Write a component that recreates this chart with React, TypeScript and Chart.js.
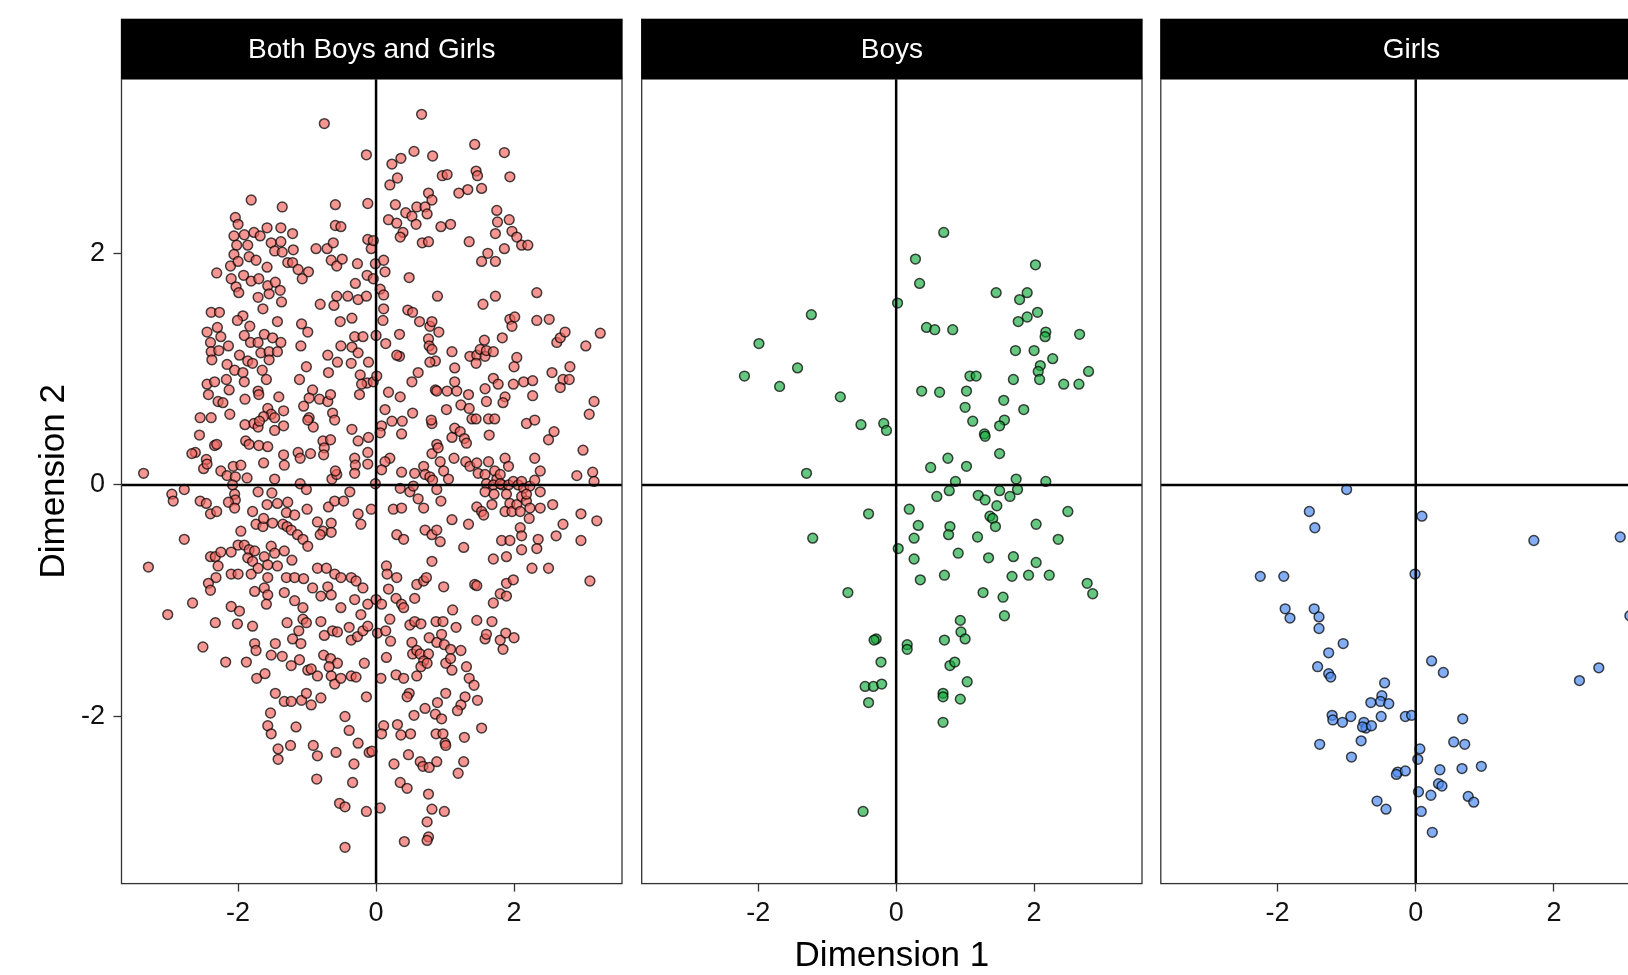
import React, { useEffect, useRef } from "react";
import { Chart, registerables } from "chart.js";

Chart.register(...registerables);

// ---------- data ----------
const panelTitles = ["Both Boys and Girls", "Boys", "Girls"];
const xAxisTitle = "Dimension 1";
const yAxisTitle = "Dimension 2";
const xTickValues = [-2, 0, 2];
const yTickValues = [-2, 0, 2];
const xLimits = [-3.69, 3.565];
const yLimits = [-3.443, 3.505];

const bothPoints: [number, number][] = [
  [-0.75,3.12],[-0.14,2.85],[-1.81,2.46],[-1.36,2.40],[-0.59,2.42],[-0.12,2.43],[-2.04,2.31],[-2.00,2.25],[-1.58,2.22],[-1.38,2.22],
  [-0.59,2.24],[-0.51,2.23],[-1.21,2.17],[-2.06,2.15],[-1.91,2.16],[-1.77,2.18],[-1.68,2.15],[-0.12,2.12],[-2.02,2.07],[-1.52,2.09],
  [-1.38,2.10],[-0.87,2.04],[-0.71,2.04],[-0.62,2.09],[-1.20,2.03],[-1.47,2.02],[-1.36,2.01],[-1.86,2.07],[-0.07,2.04],[-2.06,1.99],
  [-1.84,1.97],[-1.74,1.94],[-2.11,1.89],[-2.00,1.93],[-1.58,1.88],[-1.28,1.92],[-1.21,1.92],[-1.13,1.86],[-0.98,1.84],[-1.07,1.78],
  [-0.65,1.94],[-0.57,1.89],[-0.49,1.95],[-0.27,1.91],[-2.31,1.83],[-2.10,1.78],[-1.92,1.81],[-1.81,1.76],[-1.70,1.78],[-1.57,1.72],
  [-1.46,1.75],[-1.39,1.68],[-2.03,1.71],[-1.99,1.66],[-1.71,1.62],[-1.55,1.65],[-1.37,1.58],[-1.64,1.52],[-0.30,1.74],[-0.13,1.81],
  [-0.81,1.56],[-0.61,1.55],[-0.57,1.63],[-0.41,1.63],[-0.26,1.60],[-0.14,1.63],[-2.39,1.49],[-2.27,1.49],[-1.93,1.46],[-2.01,1.42],
  [-1.83,1.37],[-1.43,1.41],[-1.08,1.39],[-0.99,1.32],[-0.52,1.41],[-0.35,1.44],[-2.45,1.32],[-2.30,1.36],[-2.25,1.28],[-1.91,1.29],
  [-1.82,1.23],[-1.62,1.30],[-1.50,1.27],[-1.38,1.23],[-1.71,1.23],[-1.09,1.20],[-0.31,1.28],[-0.19,1.28],[-2.40,1.23],[-2.14,1.20],
  [-0.51,1.20],[-0.35,1.19],
  [0.66,3.20],[1.43,2.94],[1.86,2.87],[0.23,2.77],[0.36,2.82],[0.55,2.88],[0.82,2.84],[0.96,2.67],[1.03,2.68],[1.45,2.71],
  [1.47,2.67],[1.94,2.66],[0.20,2.59],[0.31,2.65],[0.76,2.52],[0.81,2.46],[1.20,2.52],[1.33,2.55],[1.53,2.56],[0.28,2.42],
  [0.43,2.35],[0.59,2.40],[0.71,2.40],[0.74,2.34],[0.18,2.29],[0.30,2.26],[0.52,2.32],[0.58,2.25],[0.39,2.18],[0.35,2.14],
  [0.94,2.23],[1.08,2.25],[0.67,2.09],[0.76,2.10],[1.35,2.10],[1.75,2.37],[1.76,2.27],[1.73,2.17],[1.93,2.29],[1.97,2.19],
  [2.04,2.14],[2.11,2.07],[2.20,2.07],[1.86,2.04],[1.62,2.00],[1.53,1.93],[1.73,1.93],[-0.04,2.11],[-0.01,1.91],[0.11,1.94],
  [0.13,1.84],[-0.04,1.78],[0.06,1.69],[0.11,1.64],[0.11,1.52],[0.10,1.42],[0.00,1.29],[0.14,1.22],[0.48,1.79],[0.89,1.63],
  [1.55,1.56],[1.73,1.63],[2.33,1.66],[0.46,1.51],[0.53,1.49],[0.63,1.41],[0.78,1.37],[0.81,1.41],[0.91,1.32],[0.34,1.30],
  [0.76,1.26],[0.77,1.20],[1.57,1.25],[1.83,1.27],[1.94,1.43],[1.97,1.37],[2.01,1.45],[2.33,1.42],[2.51,1.43],[2.62,1.23],
  [2.67,1.27],[2.74,1.32],[3.04,1.20],[3.25,1.31],
  [-2.39,1.15],[-2.28,1.16],[-2.38,1.08],[-2.16,1.04],[-2.05,0.99],[-1.98,1.12],[-1.93,0.97],[-1.86,1.07],[-1.79,1.05],[-1.67,1.14],
  [-1.55,1.15],[-1.55,1.08],[-1.65,0.99],[-1.43,1.15],[-1.59,0.91],[-1.71,0.81],[-1.70,0.78],[-2.45,0.87],[-2.43,0.78],[-2.34,0.89],
  [-2.29,0.72],[-2.22,0.71],[-2.17,0.91],[-2.13,0.82],[-1.91,0.89],[-1.90,0.74],[-1.41,0.76],[-1.34,0.64],[-1.57,0.66],[-1.52,0.61],
  [-1.63,0.59],[-1.47,0.58],[-1.01,1.02],[-1.11,0.91],[-0.92,0.82],[-0.97,0.75],[-1.05,0.68],[-0.82,0.74],[-0.70,0.72],[-0.66,0.78],
  [-0.63,0.62],[-0.60,0.56],[-0.97,0.58],[-0.91,0.50],[-0.99,0.56],[-0.70,1.12],[-0.69,0.97],[-0.56,1.06],[-0.36,1.05],[-0.26,1.14],
  [-0.23,0.95],[-0.13,0.88],[-0.21,0.87],[-0.11,1.06],[-0.24,0.78],[-2.55,0.58],[-2.39,0.58],[-2.12,0.61],[-1.90,0.52],[-1.77,0.53],
  [-1.71,0.50],[-1.69,0.55],[-1.34,0.51],[-1.47,0.47],[-2.56,0.43],[-2.34,0.34],[-2.31,0.35],[-2.62,0.28],[-2.67,0.27],[-2.46,0.22],
  [-2.50,0.14],[-2.45,0.18],[-1.89,0.38],[-1.84,0.35],[-1.70,0.34],[-1.57,0.33],[-1.63,0.19],[-1.34,0.26],[-1.33,0.17],[-1.13,0.28],
  [-1.10,0.23],[-0.95,0.27],[-0.77,0.38],[-0.75,0.32],[-0.66,0.39],[-0.76,0.26],[-0.35,0.48],[-0.26,0.38],[-0.11,0.41],[-0.12,0.28],
  [-0.31,0.23],[-0.30,0.17],[-0.31,0.10],[-0.12,0.18],[-3.37,0.10],[-2.25,0.12],[-2.16,0.08],[-2.07,0.16],[-1.96,0.17],[-2.04,0.07],
  [-1.87,0.06],[-1.47,0.05],[-2.08,0.00],[-2.05,-0.08],[-2.04,-0.13],[-1.71,-0.06],[-1.51,-0.07],[-1.10,0.01],[-1.01,-0.04],[-0.64,0.05],
  [-0.57,0.09],[-0.59,0.12],[-2.96,-0.08],[-2.94,-0.14],[-2.78,-0.04],[-2.55,-0.14],[-2.46,-0.16],[-2.40,-0.25],[-2.31,-0.23],[-2.14,-0.15],
  [-2.05,-0.20],[-1.79,-0.23],[-1.58,-0.17],[-1.43,-0.16],[-1.28,-0.15],[-1.30,-0.24],[-1.18,-0.26],[-1.00,-0.21],[-0.69,-0.19],[-0.60,-0.14],
  [-0.47,-0.14],[-0.38,-0.06],[-0.26,-0.25],[-0.22,-0.34],[-0.07,-0.21],[-2.78,-0.47],[-3.30,-0.71],[-1.96,-0.40],[-1.74,-0.34],[-1.64,-0.36],
  [-1.63,-0.29],[-1.50,-0.33],[-1.35,-0.34],[-1.29,-0.36],[-1.23,-0.39],[-1.14,-0.43],[-1.06,-0.47],[-0.99,-0.53],[-0.85,-0.32],[-0.77,-0.40],
  [-0.65,-0.33],[-0.65,-0.41],[-0.81,-0.43],[-2.40,-0.62],[-2.33,-0.62],[-2.25,-0.58],[-2.10,-0.58],[-2.00,-0.52],[-1.91,-0.52],[-1.84,-0.56],
  [-1.76,-0.57],[-1.86,-0.63],[-1.79,-0.66],[-1.62,-0.62],[-1.52,-0.53],[-1.47,-0.59],[-1.33,-0.57],[-1.22,-0.65],[-2.29,-0.70],[-2.32,-0.80],
  [-2.43,-0.85],[-2.40,-0.91],[-2.10,-0.77],[-2.00,-0.77],[-1.81,-0.77],[-1.71,-0.72],[-1.57,-0.69],[-1.43,-0.70],[-1.57,-0.80],[-1.62,-0.89],
  [-1.57,-0.95],[-1.76,-0.92],[-1.59,-1.03],[-1.30,-0.80],[-1.18,-0.80],[-1.05,-0.81],[-0.92,-0.89],[-1.33,-0.93],[-1.18,-1.00],[-1.06,-1.06],
  [-0.85,-0.72],[-0.72,-0.72],[-0.60,-0.77],[-0.51,-0.80],[-0.36,-0.80],[-0.29,-0.83],[-0.19,-0.89],[-0.80,-0.96],[-0.70,-0.88],[-0.65,-0.95],
  [-0.51,-1.06],[-0.31,-0.99],[-0.12,-1.03],[-0.22,-1.12],[-2.66,-1.02],[-2.10,-1.05],[-1.98,-1.09],[-3.02,-1.12],
  [0.34,1.11],[0.30,1.12],[0.81,1.17],[0.86,1.07],[0.78,1.06],[1.10,1.15],[1.14,1.01],[1.36,1.11],[1.46,1.12],[1.51,1.17],
  [1.58,1.11],[1.60,1.16],[1.70,1.15],[1.45,1.05],[2.04,1.10],[2.00,1.02],[2.55,0.97],[2.81,1.02],[2.71,0.91],[2.80,0.91],
  [2.67,0.84],[0.52,0.89],[0.61,0.97],[0.86,0.82],[0.88,0.81],[1.03,0.81],[1.14,0.89],[1.17,0.81],[1.34,0.78],[1.23,0.69],
  [1.35,0.66],[1.58,0.83],[1.60,0.72],[1.70,0.92],[1.77,0.87],[1.87,0.76],[1.84,0.71],[1.99,0.87],[2.14,0.89],[2.27,0.90],
  [2.27,0.77],[3.16,0.72],[3.09,0.61],[0.18,0.80],[0.35,0.76],[0.13,0.65],[0.23,0.55],[0.38,0.55],[0.53,0.62],[0.37,0.44],
  [0.08,0.51],[0.06,0.45],[-0.04,0.89],[0.01,0.94],[1.02,0.65],[0.81,0.53],[0.80,0.56],[1.10,0.41],[1.14,0.49],[1.22,0.46],
  [1.28,0.40],[1.31,0.36],[1.39,0.57],[1.45,0.57],[1.63,0.57],[1.72,0.57],[1.64,0.43],[2.18,0.53],[2.30,0.56],[2.50,0.39],
  [2.58,0.46],[3.00,0.30],[0.20,0.23],[0.13,0.20],[0.08,0.13],[0.37,0.11],[0.56,0.10],[0.69,0.16],[0.71,0.09],[0.78,0.07],
  [0.82,0.04],[0.81,0.27],[0.88,0.35],[0.90,0.32],[0.93,0.20],[0.98,0.12],[1.05,0.05],[1.13,0.23],[1.30,0.20],[1.36,0.16],
  [1.46,0.19],[1.48,0.10],[1.63,0.20],[1.58,0.09],[1.72,0.12],[1.75,0.05],[1.80,0.09],[1.87,0.23],[1.92,0.16],[1.83,0.00],
  [1.60,0.01],[1.70,0.00],[1.80,0.01],[1.92,0.00],[1.99,0.03],[2.06,0.00],[2.11,0.03],[2.14,-0.03],[2.23,-0.01],[2.30,0.23],
  [2.38,0.12],[2.30,0.04],[2.91,0.08],[3.14,0.11],[3.16,0.03],[-0.01,0.01],[0.35,-0.03],[0.49,-0.06],[0.54,-0.01],[0.61,-0.12],
  [0.69,-0.20],[0.88,-0.04],[0.94,-0.14],[0.25,-0.21],[0.37,-0.20],[1.10,-0.30],[1.34,-0.34],[1.46,-0.19],[1.53,-0.23],[1.56,-0.26],
  [1.68,-0.17],[1.58,-0.06],[1.71,-0.08],[1.89,-0.08],[1.94,-0.16],[1.87,-0.23],[1.97,-0.23],[2.04,-0.17],[2.09,-0.23],[2.11,-0.10],
  [2.18,-0.14],[2.23,-0.20],[2.22,-0.29],[2.18,-0.08],[2.38,-0.06],[2.38,-0.20],[2.56,-0.17],[2.97,-0.25],[3.20,-0.31],[2.71,-0.34],
  [2.61,-0.44],[2.97,-0.48],[0.30,-0.43],[0.40,-0.47],[0.71,-0.39],[0.81,-0.43],[0.88,-0.39],[0.93,-0.49],[1.27,-0.54],[1.82,-0.48],
  [1.94,-0.48],[2.09,-0.37],[2.11,-0.44],[2.11,-0.56],[2.35,-0.47],[2.33,-0.55],[1.70,-0.64],[1.89,-0.62],[0.81,-0.66],[2.26,-0.72],
  [2.50,-0.72],[3.10,-0.83],[0.15,-0.70],[0.16,-0.77],[0.30,-0.80],[0.18,-0.90],[0.59,-0.86],[0.69,-0.83],[0.73,-0.80],[0.98,-0.88],
  [1.43,-0.86],[1.46,-0.87],[1.89,-0.85],[1.99,-0.82],[1.80,-0.94],[1.89,-0.96],[1.70,-1.02],[0.00,-0.99],[0.08,-1.03],[0.29,-0.98],
  [0.37,-1.03],[0.40,-1.06],[0.56,-0.98],[1.11,-1.08],
  [-2.33,-1.19],[-2.01,-1.20],[-1.79,-1.22],[-2.51,-1.40],[-2.18,-1.53],[-1.88,-1.53],[-1.76,-1.37],[-1.74,-1.43],[-1.46,-1.37],[-1.52,-1.47],
  [-1.36,-1.48],[-1.29,-1.19],[-1.21,-1.33],[-1.12,-1.26],[-1.09,-1.37],[-1.23,-1.56],[-1.11,-1.51],[-1.06,-1.16],[-1.01,-1.19],[-0.80,-1.18],
  [-0.75,-1.30],[-0.63,-1.26],[-0.56,-1.27],[-0.39,-1.23],[-0.36,-1.34],[-0.27,-1.31],[-0.19,-1.26],[-0.12,-1.22],[-0.76,-1.47],[-0.66,-1.50],
  [-0.56,-1.54],[-0.99,-1.60],[-0.94,-1.59],[-0.85,-1.65],[-0.68,-1.57],[-0.65,-1.65],[-0.60,-1.72],[-0.51,-1.67],[-0.36,-1.65],[-0.29,-1.66],
  [-0.17,-1.54],[-1.73,-1.67],[-1.61,-1.63],[-1.46,-1.80],[-1.33,-1.87],[-1.23,-1.87],[-1.08,-1.86],[-1.01,-1.80],[-0.94,-1.90],[-0.80,-1.84],
  [-0.14,-1.83],[-1.53,-1.97],[-1.57,-2.08],[-1.52,-2.15],[-1.16,-2.09],[-1.42,-2.28],[-1.42,-2.37],[-1.24,-2.25],[-0.91,-2.25],[-0.85,-2.34],
  [-0.58,-2.31],[-0.45,-2.00],[-0.39,-2.12],[-0.26,-2.23],[-0.10,-2.31],[-0.32,-2.41],[-0.86,-2.54],[-0.34,-2.57],[-0.53,-2.75],[-0.45,-2.78],
  [-0.14,-2.82],[-0.45,-3.13],
  [0.20,-1.16],[0.02,-1.28],[0.14,-1.26],[0.21,-1.35],[0.49,-1.21],[0.56,-1.18],[0.65,-1.20],[0.87,-1.18],[0.97,-1.18],[1.16,-1.23],
  [1.46,-1.17],[1.68,-1.18],[0.77,-1.32],[0.88,-1.36],[0.95,-1.29],[0.99,-1.38],[1.08,-1.42],[1.23,-1.43],[1.58,-1.33],[1.60,-1.29],
  [1.80,-1.34],[1.88,-1.28],[2.00,-1.32],[1.84,-1.42],[0.52,-1.36],[0.53,-1.46],[0.59,-1.43],[0.64,-1.46],[0.76,-1.46],[0.69,-1.52],
  [0.65,-1.57],[0.59,-1.65],[0.74,-1.54],[1.01,-1.54],[1.08,-1.50],[1.10,-1.60],[1.31,-1.57],[1.35,-1.67],[1.42,-1.73],[0.15,-1.49],
  [0.07,-1.67],[0.29,-1.64],[0.40,-1.67],[1.01,-1.80],[0.89,-1.88],[0.48,-1.80],[0.45,-1.83],[1.29,-1.83],[1.47,-1.86],[1.23,-1.90],
  [1.18,-1.95],[0.55,-1.99],[0.71,-1.93],[0.86,-1.98],[0.95,-2.02],[0.31,-2.07],[0.11,-2.08],[0.08,-2.15],[0.36,-2.16],[0.50,-2.15],
  [0.87,-2.15],[0.97,-2.15],[1.00,-2.23],[1.01,-2.25],[1.28,-2.18],[1.53,-2.10],[0.47,-2.33],[0.26,-2.41],[0.64,-2.39],[0.68,-2.43],
  [0.77,-2.44],[0.88,-2.39],[1.27,-2.39],[1.19,-2.49],[0.35,-2.57],[0.45,-2.62],[0.76,-2.67],[0.81,-2.80],[0.99,-2.82],[0.74,-2.91],
  [0.76,-3.04],[0.74,-3.07],[0.41,-3.08],[0.06,-2.79],[-0.06,-2.30],
];

const boysPoints: [number, number][] = [
  [0.02,1.57],[-1.23,1.47],[-1.99,1.22],[-1.43,1.01],[-2.20,0.94],[-1.69,0.85],[-0.81,0.76],[-0.51,0.52],[-0.18,0.53],[-0.14,0.47],
  [-1.30,0.10],[-0.40,-0.25],[0.19,-0.21],[-1.21,-0.46],[0.03,-0.55],[-0.70,-0.93],[-0.29,-1.33],[-0.32,-1.34],[0.16,-1.38],[0.16,-1.42],
  [-0.22,-1.53],[-0.45,-1.74],[-0.33,-1.74],[-0.21,-1.72],[-0.40,-1.88],[-0.48,-2.82],
  [0.69,2.18],[0.28,1.95],[0.34,1.74],[2.02,1.90],[1.45,1.66],[1.79,1.60],[1.90,1.66],[1.77,1.41],[1.90,1.45],[2.05,1.49],
  [0.44,1.36],[0.56,1.34],[0.82,1.34],[2.17,1.32],[2.16,1.28],[2.66,1.30],[1.73,1.16],[2.00,1.16],[2.27,1.09],[2.09,1.03],
  [2.06,0.98],[2.08,0.91],[2.43,0.87],[2.65,0.87],[2.79,0.98],[1.07,0.94],[1.16,0.94],[1.70,0.91],[0.37,0.81],[0.63,0.80],
  [1.02,0.81],[1.00,0.67],[1.11,0.55],[1.56,0.73],[1.57,0.56],[1.50,0.51],[1.85,0.65],[1.28,0.44],[1.29,0.42],[1.50,0.27],
  [0.50,0.15],[0.75,0.23],[1.02,0.16],[0.86,0.03],[0.77,-0.05],[0.59,-0.10],[1.74,0.05],[1.76,-0.04],[1.65,-0.10],[2.17,0.03],
  [1.19,-0.09],[1.29,-0.13],[1.50,-0.05],[1.46,-0.18],[1.36,-0.27],[1.40,-0.29],[1.44,-0.36],[0.32,-0.35],[0.26,-0.46],[0.78,-0.36],
  [0.76,-0.43],[1.18,-0.45],[2.03,-0.34],[2.35,-0.47],[2.49,-0.23],[0.26,-0.64],[0.90,-0.59],[1.34,-0.63],[1.70,-0.62],[2.03,-0.67],
  [0.35,-0.82],[0.70,-0.78],[1.68,-0.79],[1.92,-0.78],[2.22,-0.78],[1.26,-0.93],[1.55,-0.97],[1.57,-1.13],[2.77,-0.85],[2.85,-0.94],
  [0.93,-1.17],[0.94,-1.27],[1.00,-1.33],[0.70,-1.34],[0.78,-1.56],[0.85,-1.53],[1.03,-1.70],[0.68,-1.80],[0.68,-1.83],[0.93,-1.85],
  [0.68,-2.05],
];

const girlsPoints: [number, number][] = [
  [-1.00,-0.04],[-1.54,-0.23],[-1.46,-0.37],[0.09,-0.27],[1.71,-0.48],[2.96,-0.45],[-2.25,-0.79],[-1.91,-0.79],[-0.01,-0.77],[-1.89,-1.07],
  [-1.82,-1.15],[-1.47,-1.07],[-1.40,-1.14],[-1.40,-1.24],[-1.05,-1.37],[-1.26,-1.45],[-1.42,-1.57],[-1.26,-1.63],[-1.23,-1.66],[0.23,-1.52],
  [0.40,-1.62],[2.37,-1.69],[2.65,-1.58],[-0.45,-1.71],[-0.49,-1.82],[-0.51,-1.87],[-0.65,-1.88],[-0.39,-1.89],[-1.21,-1.99],[-1.20,-2.03],
  [-1.06,-2.05],[-0.94,-2.00],[-0.75,-2.05],[-0.72,-2.10],[-0.77,-2.09],[-0.64,-2.08],[-0.50,-2.00],[-0.15,-2.00],[-0.06,-1.99],[0.68,-2.02],
  [-1.39,-2.24],[-0.79,-2.21],[-0.93,-2.35],[0.06,-2.28],[0.03,-2.37],[0.55,-2.22],[0.71,-2.24],[-0.26,-2.48],[-0.28,-2.50],[-0.15,-2.47],
  [0.35,-2.46],[0.67,-2.45],[0.95,-2.43],[0.33,-2.58],[0.38,-2.60],[0.04,-2.65],[0.22,-2.68],[0.76,-2.69],[0.84,-2.74],[-0.56,-2.73],
  [-0.43,-2.80],[0.08,-2.82],[0.24,-3.00],[3.10,-1.13],
];

// ---------- styling ----------
const FONT = '"Liberation Sans", Arial, Helvetica, sans-serif';
const STRIP_TOP = 18.7;
const PLOT_TOP = 79;
const PAGE_H = 975;
const X_AXIS_H = 91.4;
const Y_AXIS_W = 121.5;

const panelPlugin = {
  id: "facetPanel",
  afterDatasetsDraw(chart: any, _args: any, opts: any) {
    const { ctx, chartArea: a, scales } = chart;
    const x0 = scales.x.getPixelForValue(0);
    const y0 = scales.y.getPixelForValue(0);
    ctx.save();
    ctx.strokeStyle = "#000";
    ctx.lineWidth = 2.5;
    ctx.beginPath();
    ctx.moveTo(x0, a.top);
    ctx.lineTo(x0, a.bottom);
    ctx.moveTo(a.left, y0);
    ctx.lineTo(a.right, y0);
    ctx.stroke();
    ctx.strokeStyle = "#333";
    ctx.lineWidth = 1.3;
    ctx.strokeRect(a.left, a.top, a.right - a.left, a.bottom - a.top);
    ctx.fillStyle = "#000";
    ctx.fillRect(a.left - 0.65, STRIP_TOP, a.right - a.left + 1.3, a.top - STRIP_TOP);
    ctx.fillStyle = "#fff";
    ctx.font = `28px ${FONT}`;
    ctx.textAlign = "center";
    ctx.textBaseline = "middle";
    ctx.fillText(opts.title, (a.left + a.right) / 2, (STRIP_TOP + a.top) / 2 + 1);
    ctx.restore();
  },
};

type PanelDef = {
  title: string;
  points: [number, number][];
  fill: string;
  left: number;
  width: number;
  padLeft: number;
  showY: boolean;
  showXTitle: boolean;
};

const panels: PanelDef[] = [
  { title: panelTitles[0], points: bothPoints, fill: "rgba(240,100,95,0.68)", left: 0, width: 623, padLeft: 0, showY: true, showXTitle: false },
  { title: panelTitles[1], points: boysPoints, fill: "rgba(20,170,60,0.65)", left: 641, width: 502, padLeft: 0.7, showY: false, showXTitle: true },
  { title: panelTitles[2], points: girlsPoints, fill: "rgba(80,140,240,0.7)", left: 1160, width: 503, padLeft: 0.8, showY: false, showXTitle: false },
];

function Panel({ def }: { def: PanelDef }) {
  const ref = useRef<HTMLCanvasElement | null>(null);
  useEffect(() => {
    if (!ref.current) return;
    const chart = new Chart(ref.current, {
      type: "scatter",
      data: {
        datasets: [
          {
            data: def.points.map(([x, y]) => ({ x, y })),
            backgroundColor: def.fill,
            borderColor: "rgba(0,0,0,0.72)",
            borderWidth: 1.5,
            pointRadius: 4.9,
            pointHoverRadius: 4.9,
          },
        ],
      },
      options: {
        responsive: false,
        animation: false,
        events: [],
        layout: { autoPadding: false, padding: { top: PLOT_TOP, left: def.padLeft, right: 1, bottom: 0 } },
        plugins: {
          legend: { display: false },
          tooltip: { enabled: false },
          facetPanel: { title: def.title },
        } as any,
        scales: {
          x: {
            type: "linear",
            min: xLimits[0],
            max: xLimits[1],
            afterBuildTicks: (s: any) => {
              s.ticks = xTickValues.map((v) => ({ value: v }));
            },
            afterFit: (s: any) => {
              s.height = X_AXIS_H;
              s.paddingLeft = 0;
              s.paddingRight = 0;
            },
            grid: { drawOnChartArea: false, drawTicks: true, tickLength: 8, tickColor: "#333", tickWidth: 1.3 },
            border: { display: false },
            ticks: {
              font: { family: FONT, size: 27 },
              color: "#111",
              padding: 5.7,
              maxRotation: 0,
              callback: (v: any) => String(v),
            },
            title: {
              display: def.showXTitle,
              text: xAxisTitle,
              font: { family: FONT, size: 35 },
              color: "#000",
              padding: { top: 0, bottom: -2.5 },
            },
          },
          y: {
            type: "linear",
            min: yLimits[0],
            max: yLimits[1],
            display: def.showY,
            afterBuildTicks: (s: any) => {
              s.ticks = yTickValues.map((v) => ({ value: v }));
            },
            afterFit: (s: any) => {
              s.width = def.showY ? Y_AXIS_W : 0;
              s.paddingTop = 0;
              s.paddingBottom = 0;
            },
            grid: { drawOnChartArea: false, drawTicks: true, tickLength: 8, tickColor: "#333", tickWidth: 1.3 },
            border: { display: false },
            ticks: {
              font: { family: FONT, size: 27 },
              color: "#111",
              padding: 8.5,
              callback: (v: any) => String(v),
            },
            title: {
              display: true,
              text: yAxisTitle,
              font: { family: FONT, size: 35 },
              color: "#000",
              padding: { top: 33, bottom: 0 },
            },
          },
        },
      },
      plugins: [panelPlugin],
    });
    return () => chart.destroy();
  }, [def]);
  return (
    <canvas
      ref={ref}
      width={def.width}
      height={PAGE_H}
      style={{ position: "absolute", left: def.left, top: 0, width: def.width, height: PAGE_H }}
    />
  );
}

export default function App() {
  return (
    <div
      style={{
        position: "absolute",
        left: 0,
        top: 0,
        width: 1628,
        height: 975,
        overflow: "hidden",
        background: "#fff",
      }}
    >
      {panels.map((p) => (
        <Panel key={p.title} def={p} />
      ))}
    </div>
  );
}
